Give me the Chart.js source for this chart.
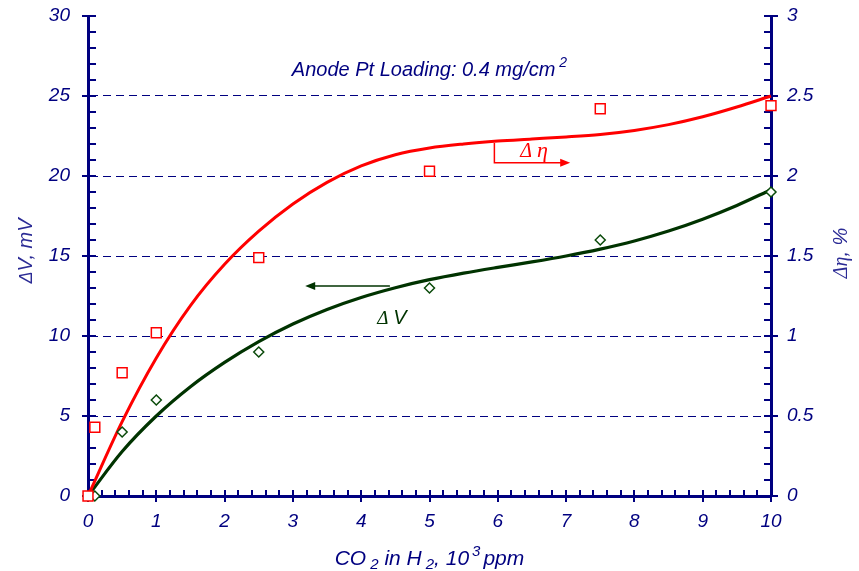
<!DOCTYPE html>
<html>
<head>
<meta charset="utf-8">
<script src="https://cdn.jsdelivr.net/npm/chart.js@4.4.1/dist/chart.umd.min.js"></script>
<style>
  html, body { margin: 0; padding: 0; background: #ffffff; }
  #wrap { width: 859px; height: 571px; }
</style>
</head>
<body>
<div id="wrap"><canvas id="c" width="859" height="571"></canvas></div>
<script>
// CO2 content in the hydrogen feed, 10^3 ppm
const co2Levels = [0, 0.1, 0.5, 1, 2.5, 5, 7.5, 10];
// measured efficiency loss, %
const effLoss = [0, 0.43, 0.77, 1.02, 1.49, 2.03, 2.42, 2.44];
// measured cell voltage loss, mV
const voltLoss = [0, 0, 4.0, 6.0, 9.0, 13.0, 16.0, 19.0];

// smoothed trend lines through the measurements
const fitX = [0, 0.5, 1, 1.5, 2, 2.5, 3, 3.5, 4, 4.5, 5, 5.5, 6, 6.5, 7, 7.5, 8, 8.5, 9, 9.5, 10];
const effFit = [0, 0.465, 0.863, 1.19, 1.448, 1.655, 1.825, 1.96, 2.063, 2.133, 2.175, 2.2, 2.218, 2.231, 2.244, 2.26, 2.285, 2.321, 2.37, 2.431, 2.5];
const voltFit = [0, 2.78, 5.0, 6.83, 8.35, 9.65, 10.75, 11.66, 12.41, 13.02, 13.52, 13.93, 14.29, 14.63, 15.0, 15.43, 15.94, 16.56, 17.3, 18.16, 19.14];

// axis tick labels
const xTicks = [0, 1, 2, 3, 4, 5, 6, 7, 8, 9, 10];
const voltTicks = [0, 5, 10, 15, 20, 25, 30];
const effTicks = [0, 0.5, 1, 1.5, 2, 2.5, 3];

const NAVY = '#000080';
const TITLE_BLUE = '#2b2b95';
const RED = '#ff0000';
const GREEN = '#003300';
const SANS = 'Arial, "Liberation Sans", sans-serif';
const SERIF = '"Times New Roman", "Liberation Serif", serif';

const pts = (xs, ys) => xs.map((x, i) => ({ x: x, y: ys[i] }));

// draws a run of text pieces (each with its own font and vertical shift)
function drawRich(ctx, pieces, x, y, align, rot, color) {
  ctx.save();
  ctx.translate(x, y);
  if (rot) ctx.rotate(rot);
  ctx.fillStyle = color;
  ctx.textBaseline = 'alphabetic';
  ctx.textAlign = 'left';
  let total = 0;
  pieces.forEach(p => { ctx.font = p.font; total += ctx.measureText(p.text).width + (p.gap || 0); });
  let cx = align === 'center' ? -total / 2 : 0;
  pieces.forEach(p => {
    ctx.font = p.font;
    ctx.fillText(p.text, cx, p.dy || 0);
    cx += ctx.measureText(p.text).width + (p.gap || 0);
  });
  ctx.restore();
}

// major/minor tick marks along the three axes, plus titles and callouts
const tickMarks = {
  id: 'tickMarks',
  beforeDatasetsDraw(chart) {
    const { ctx, chartArea: a, scales } = chart;
    ctx.save();
    ctx.strokeStyle = NAVY;
    ctx.lineWidth = 2;
    ctx.beginPath();
    for (let i = 0; i <= 30; i++) {
      const py = Math.round(scales.y.getPixelForValue(i));
      const major = i % 5 === 0;
      ctx.moveTo(a.left - (major ? 6 : 0), py);
      ctx.lineTo(a.left + 8, py);
    }
    for (let i = 0; i <= 30; i++) {
      const py = Math.round(scales.y2.getPixelForValue(i / 10));
      const major = i % 5 === 0;
      ctx.moveTo(a.right - 7, py);
      ctx.lineTo(a.right + (major ? 7 : 0), py);
    }
    for (let i = 0; i <= 50; i++) {
      const px = Math.round(scales.x.getPixelForValue(i / 5));
      const major = i % 5 === 0;
      ctx.moveTo(px, a.bottom - 6);
      ctx.lineTo(px, a.bottom + (major ? 6 : 0));
    }
    ctx.stroke();
    ctx.restore();
  },
  afterDraw(chart) {
    const { ctx, chartArea: a, scales } = chart;
    const sx = v => scales.x.getPixelForValue(v);
    const sy = v => scales.y.getPixelForValue(v);
    const mid = (a.left + a.right) / 2;

    // heading
    drawRich(ctx, [
      { text: 'Anode Pt Loading: 0.4 mg/cm', font: 'italic 20px ' + SANS, gap: 4 },
      { text: '2', font: 'italic 14px ' + SANS, dy: -9 }
    ], mid, 76, 'center', 0, NAVY);

    // x axis title
    drawRich(ctx, [
      { text: 'CO', font: 'italic 21px ' + SANS, gap: 4 },
      { text: '2', font: 'italic 15px ' + SANS, dy: 4 },
      { text: ' in H', font: 'italic 21px ' + SANS, gap: 4 },
      { text: '2', font: 'italic 15px ' + SANS, dy: 4 },
      { text: ', 10', font: 'italic 21px ' + SANS, gap: 3 },
      { text: '3', font: 'italic 15px ' + SANS, dy: -9, gap: 3 },
      { text: 'ppm', font: 'italic 21px ' + SANS }
    ], mid, 565, 'center', 0, NAVY);

    // left axis title
    drawRich(ctx, [
      { text: 'Δ', font: 'italic 18px ' + SANS },
      { text: 'V, mV', font: 'italic 20px ' + SANS }
    ], 32, (a.top + a.bottom) / 2 - 5, 'center', -Math.PI / 2, TITLE_BLUE);

    // right axis title
    drawRich(ctx, [
      { text: 'Δη', font: 'italic 20px ' + SERIF },
      { text: ', %', font: 'italic 20px ' + SANS }
    ], 847, (a.top + a.bottom) / 2 - 3, 'center', -Math.PI / 2, TITLE_BLUE);

    // series callouts
    ctx.save();
    ctx.lineWidth = 1.5;
    // efficiency loss -> right axis
    ctx.strokeStyle = RED; ctx.fillStyle = RED;
    const bx = sx(5.95), by1 = sy(22.06), by2 = sy(20.83), bx2 = sx(7.06);
    ctx.beginPath();
    ctx.moveTo(bx, by1); ctx.lineTo(bx, by2); ctx.lineTo(bx2 - 8, by2);
    ctx.stroke();
    ctx.beginPath();
    ctx.moveTo(bx2, by2); ctx.lineTo(bx2 - 10, by2 - 4); ctx.lineTo(bx2 - 10, by2 + 4); ctx.closePath();
    ctx.fill();
    // voltage loss -> left axis
    ctx.strokeStyle = GREEN; ctx.fillStyle = GREEN;
    const gx1 = sx(4.42), gx2 = sx(3.18), gy = sy(13.13);
    ctx.beginPath();
    ctx.moveTo(gx1, gy); ctx.lineTo(gx2 + 8, gy);
    ctx.stroke();
    ctx.beginPath();
    ctx.moveTo(gx2, gy); ctx.lineTo(gx2 + 10, gy - 4); ctx.lineTo(gx2 + 10, gy + 4); ctx.closePath();
    ctx.fill();
    ctx.restore();

    drawRich(ctx, [
      { text: 'Δ ', font: 'italic 20px ' + SERIF },
      { text: 'η', font: 'italic 22px ' + SERIF }
    ], sx(6.53), sy(21.6) + 7, 'center', 0, RED);
    drawRich(ctx, [
      { text: 'Δ ', font: 'italic 19px ' + SERIF },
      { text: 'V', font: 'italic 20px ' + SANS }
    ], sx(4.45), sy(11.2) + 7, 'center', 0, GREEN);
  }
};

const tickFont = { family: SANS, size: 19, style: 'italic' };
const noOverflow = s => { s.paddingTop = 0; s.paddingBottom = 0; s.paddingLeft = 0; s.paddingRight = 0; };

new Chart(document.getElementById('c'), {
  type: 'scatter',
  data: {
    datasets: [
      {
        label: 'Δη data', data: pts(co2Levels, effLoss), yAxisID: 'y2',
        pointStyle: 'rect', pointRadius: 7, pointBorderWidth: 1.5,
        borderColor: RED, backgroundColor: '#ffffff', showLine: false, order: 0, clip: false
      },
      {
        label: 'ΔV data', data: pts(co2Levels, voltLoss), yAxisID: 'y',
        pointStyle: 'rectRot', pointRadius: 5, pointBorderWidth: 1.5,
        borderColor: '#0a4a0a', backgroundColor: '#ffffff', showLine: false, order: 0, clip: false
      },
      {
        label: 'Δη trend', data: pts(fitX, effFit), yAxisID: 'y2',
        showLine: true, pointRadius: 0, borderColor: RED, borderWidth: 3,
        cubicInterpolationMode: 'monotone', order: 1, clip: false
      },
      {
        label: 'ΔV trend', data: pts(fitX, voltFit), yAxisID: 'y',
        showLine: true, pointRadius: 0, borderColor: GREEN, borderWidth: 3.2,
        cubicInterpolationMode: 'monotone', order: 1, clip: false
      }
    ]
  },
  options: {
    responsive: false,
    animation: false,
    devicePixelRatio: 1,
    layout: { padding: { top: 16, left: 0, right: 0, bottom: 0 } },
    plugins: { legend: { display: false }, tooltip: { enabled: false } },
    scales: {
      x: {
        type: 'linear', min: 0, max: 10,
        afterBuildTicks: s => { s.ticks = xTicks.map(v => ({ value: v })); },
        afterFit: s => { s.height = 75; noOverflow(s); },
        ticks: { color: NAVY, font: tickFont, padding: 14, maxRotation: 0, callback: v => String(v) },
        grid: { display: false, drawTicks: false },
        border: { display: true, color: NAVY, width: 3 }
      },
      y: {
        position: 'left', min: 0, max: 30,
        afterBuildTicks: s => { s.ticks = voltTicks.map(v => ({ value: v })); },
        afterFit: s => { s.width = 88; noOverflow(s); },
        ticks: { color: NAVY, font: tickFont, padding: 18, callback: v => String(v) },
        grid: {
          drawTicks: false, lineWidth: 1,
          color: c => (c.tick && (c.tick.value === 0 || c.tick.value === 30)) ? 'rgba(0,0,0,0)' : NAVY
        },
        border: { display: true, color: NAVY, width: 3, dash: [8, 5] }
      },
      y2: {
        position: 'right', min: 0, max: 3,
        afterBuildTicks: s => { s.ticks = effTicks.map(v => ({ value: v })); },
        afterFit: s => { s.width = 88; noOverflow(s); },
        ticks: { color: NAVY, font: tickFont, padding: 16, callback: v => String(v) },
        grid: { display: false, drawTicks: false },
        border: { display: true, color: NAVY, width: 3 }
      }
    }
  },
  plugins: [tickMarks]
});
</script>
</body>
</html>
